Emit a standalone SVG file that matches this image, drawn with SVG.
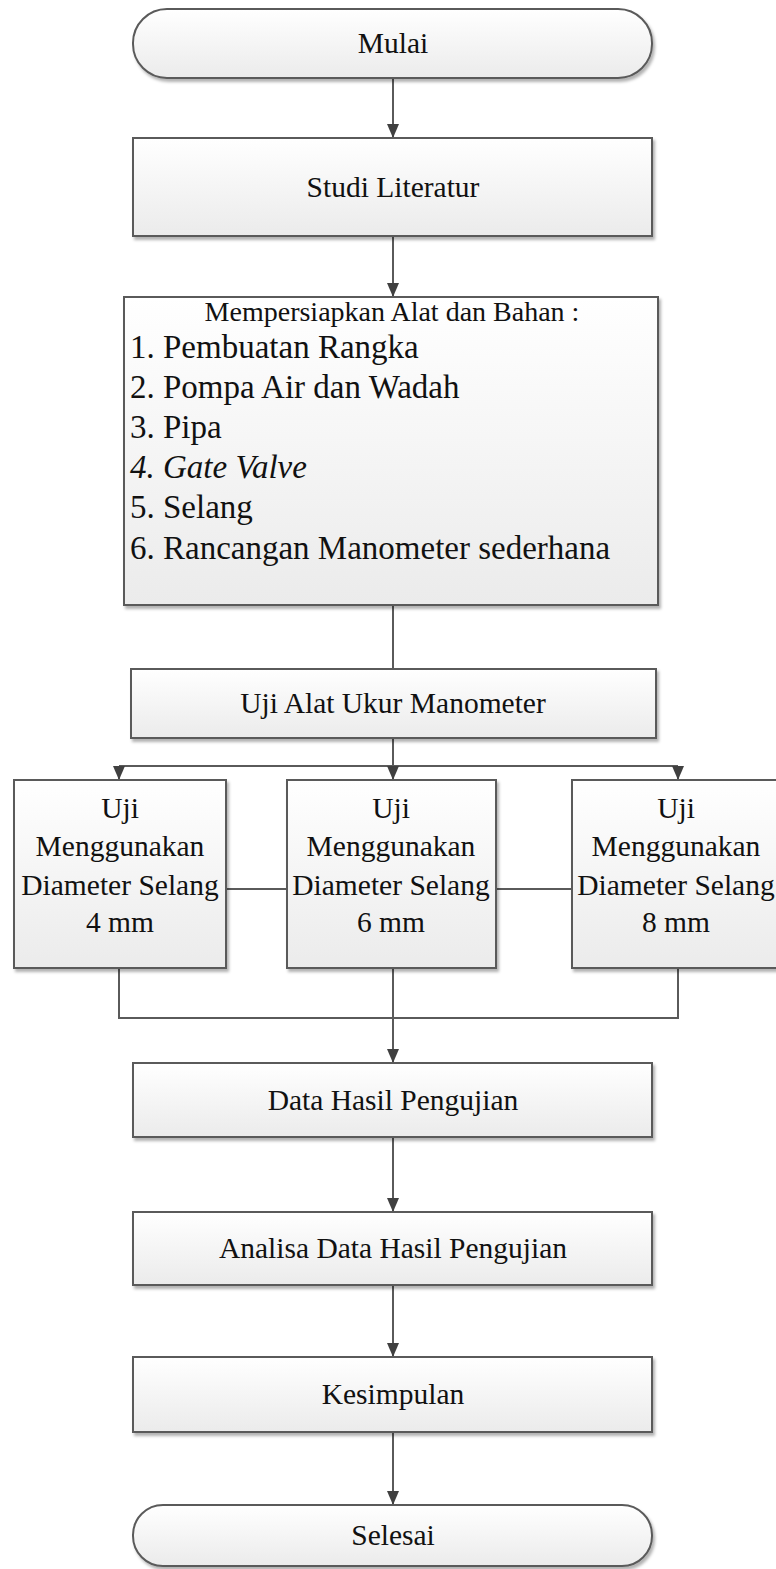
<svg xmlns="http://www.w3.org/2000/svg" width="776" height="1569" viewBox="0 0 776 1569">
<defs>
<linearGradient id="g" x1="0" y1="0" x2="0" y2="1">
<stop offset="0" stop-color="#ffffff"/>
<stop offset="1" stop-color="#ebebeb"/>
</linearGradient>
<filter id="sh" x="-5%" y="-5%" width="115%" height="125%">
<feDropShadow dx="2" dy="3" stdDeviation="1.5" flood-color="#000" flood-opacity="0.3"/>
</filter>
<marker id="ah" viewBox="0 0 14 12" refX="14" refY="6" markerWidth="14" markerHeight="12" markerUnits="userSpaceOnUse" orient="auto">
<path d="M0,0 L14,6 L0,12 Z" fill="#404040"/>
</marker>
</defs>
<style>
.b{fill:url(#g);stroke:#5a5a5a;stroke-width:2;filter:url(#sh)}
.t{font-family:"Liberation Serif","Times New Roman",serif;font-size:29.5px;fill:#111;text-anchor:middle}
.i{font-family:"Liberation Serif","Times New Roman",serif;font-size:33px;fill:#111}
.c{fill:none;stroke:#5a5a5a;stroke-width:2}
.a{fill:none;stroke:#5a5a5a;stroke-width:2}
</style>
<g id="connectors">
<line class="a" x1="393" y1="78" x2="393" y2="138" marker-end="url(#ah)"/>
<line class="a" x1="393" y1="236" x2="393" y2="297" marker-end="url(#ah)"/>
<line class="c" x1="393" y1="605" x2="393" y2="669"/>
<line class="c" x1="393" y1="738" x2="393" y2="766"/>
<line class="c" x1="119" y1="766" x2="678" y2="766"/>
<line class="a" x1="119" y1="766" x2="119" y2="780" marker-end="url(#ah)"/>
<line class="a" x1="393" y1="766" x2="393" y2="780" marker-end="url(#ah)"/>
<line class="a" x1="678" y1="766" x2="678" y2="780" marker-end="url(#ah)"/>
<line class="c" x1="226" y1="889" x2="287" y2="889"/>
<line class="c" x1="496" y1="889" x2="572" y2="889"/>
<polyline class="c" points="119,968 119,1018 678,1018 678,968"/>
<line class="a" x1="393" y1="968" x2="393" y2="1063" marker-end="url(#ah)"/>
<line class="a" x1="393" y1="1137" x2="393" y2="1212" marker-end="url(#ah)"/>
<line class="a" x1="393" y1="1285" x2="393" y2="1357" marker-end="url(#ah)"/>
<line class="a" x1="393" y1="1432" x2="393" y2="1505" marker-end="url(#ah)"/>
</g>
<g id="mulai">
<rect class="b" x="133" y="9" width="519" height="69" rx="34" ry="34"/>
<text class="t" x="393" y="53">Mulai</text>
</g>
<g id="studi">
<rect class="b" x="133" y="138" width="519" height="98"/>
<text class="t" x="393" y="197">Studi Literatur</text>
</g>
<g id="persiapan">
<rect class="b" x="124" y="297" width="534" height="308"/>
<text class="t" x="392" y="321" style="font-size:28px">Mempersiapkan Alat dan Bahan :</text>
<text class="i" x="130" y="358">1. Pembuatan Rangka</text>
<text class="i" x="130" y="398">2. Pompa Air dan Wadah</text>
<text class="i" x="130" y="438">3. Pipa</text>
<text class="i" x="130" y="478" font-style="italic">4. Gate Valve</text>
<text class="i" x="130" y="518">5. Selang</text>
<text class="i" x="130" y="559">6. Rancangan Manometer sederhana</text>
</g>
<g id="ujialat">
<rect class="b" x="131" y="669" width="525" height="69"/>
<text class="t" x="393" y="713">Uji Alat Ukur Manometer</text>
</g>
<g id="uji4">
<rect class="b" x="14" y="780" width="212" height="188"/>
<text class="t" x="120" y="818">Uji</text>
<text class="t" x="120" y="856">Menggunakan</text>
<text class="t" x="120" y="895">Diameter Selang</text>
<text class="t" x="120" y="932">4 mm</text>
</g>
<g id="uji6">
<rect class="b" x="287" y="780" width="209" height="188"/>
<text class="t" x="391" y="818">Uji</text>
<text class="t" x="391" y="856">Menggunakan</text>
<text class="t" x="391" y="895">Diameter Selang</text>
<text class="t" x="391" y="932">6 mm</text>
</g>
<g id="uji8">
<rect class="b" x="572" y="780" width="206" height="188"/>
<text class="t" x="676" y="818">Uji</text>
<text class="t" x="676" y="856">Menggunakan</text>
<text class="t" x="676" y="895">Diameter Selang</text>
<text class="t" x="676" y="932">8 mm</text>
</g>
<g id="data">
<rect class="b" x="133" y="1063" width="519" height="74"/>
<text class="t" x="393" y="1110">Data Hasil Pengujian</text>
</g>
<g id="analisa">
<rect class="b" x="133" y="1212" width="519" height="73"/>
<text class="t" x="393" y="1258">Analisa Data Hasil Pengujian</text>
</g>
<g id="kesimpulan">
<rect class="b" x="133" y="1357" width="519" height="75"/>
<text class="t" x="393" y="1404">Kesimpulan</text>
</g>
<g id="selesai">
<rect class="b" x="133" y="1505" width="519" height="61" rx="30" ry="30"/>
<text class="t" x="393" y="1545">Selesai</text>
</g>
</svg>
